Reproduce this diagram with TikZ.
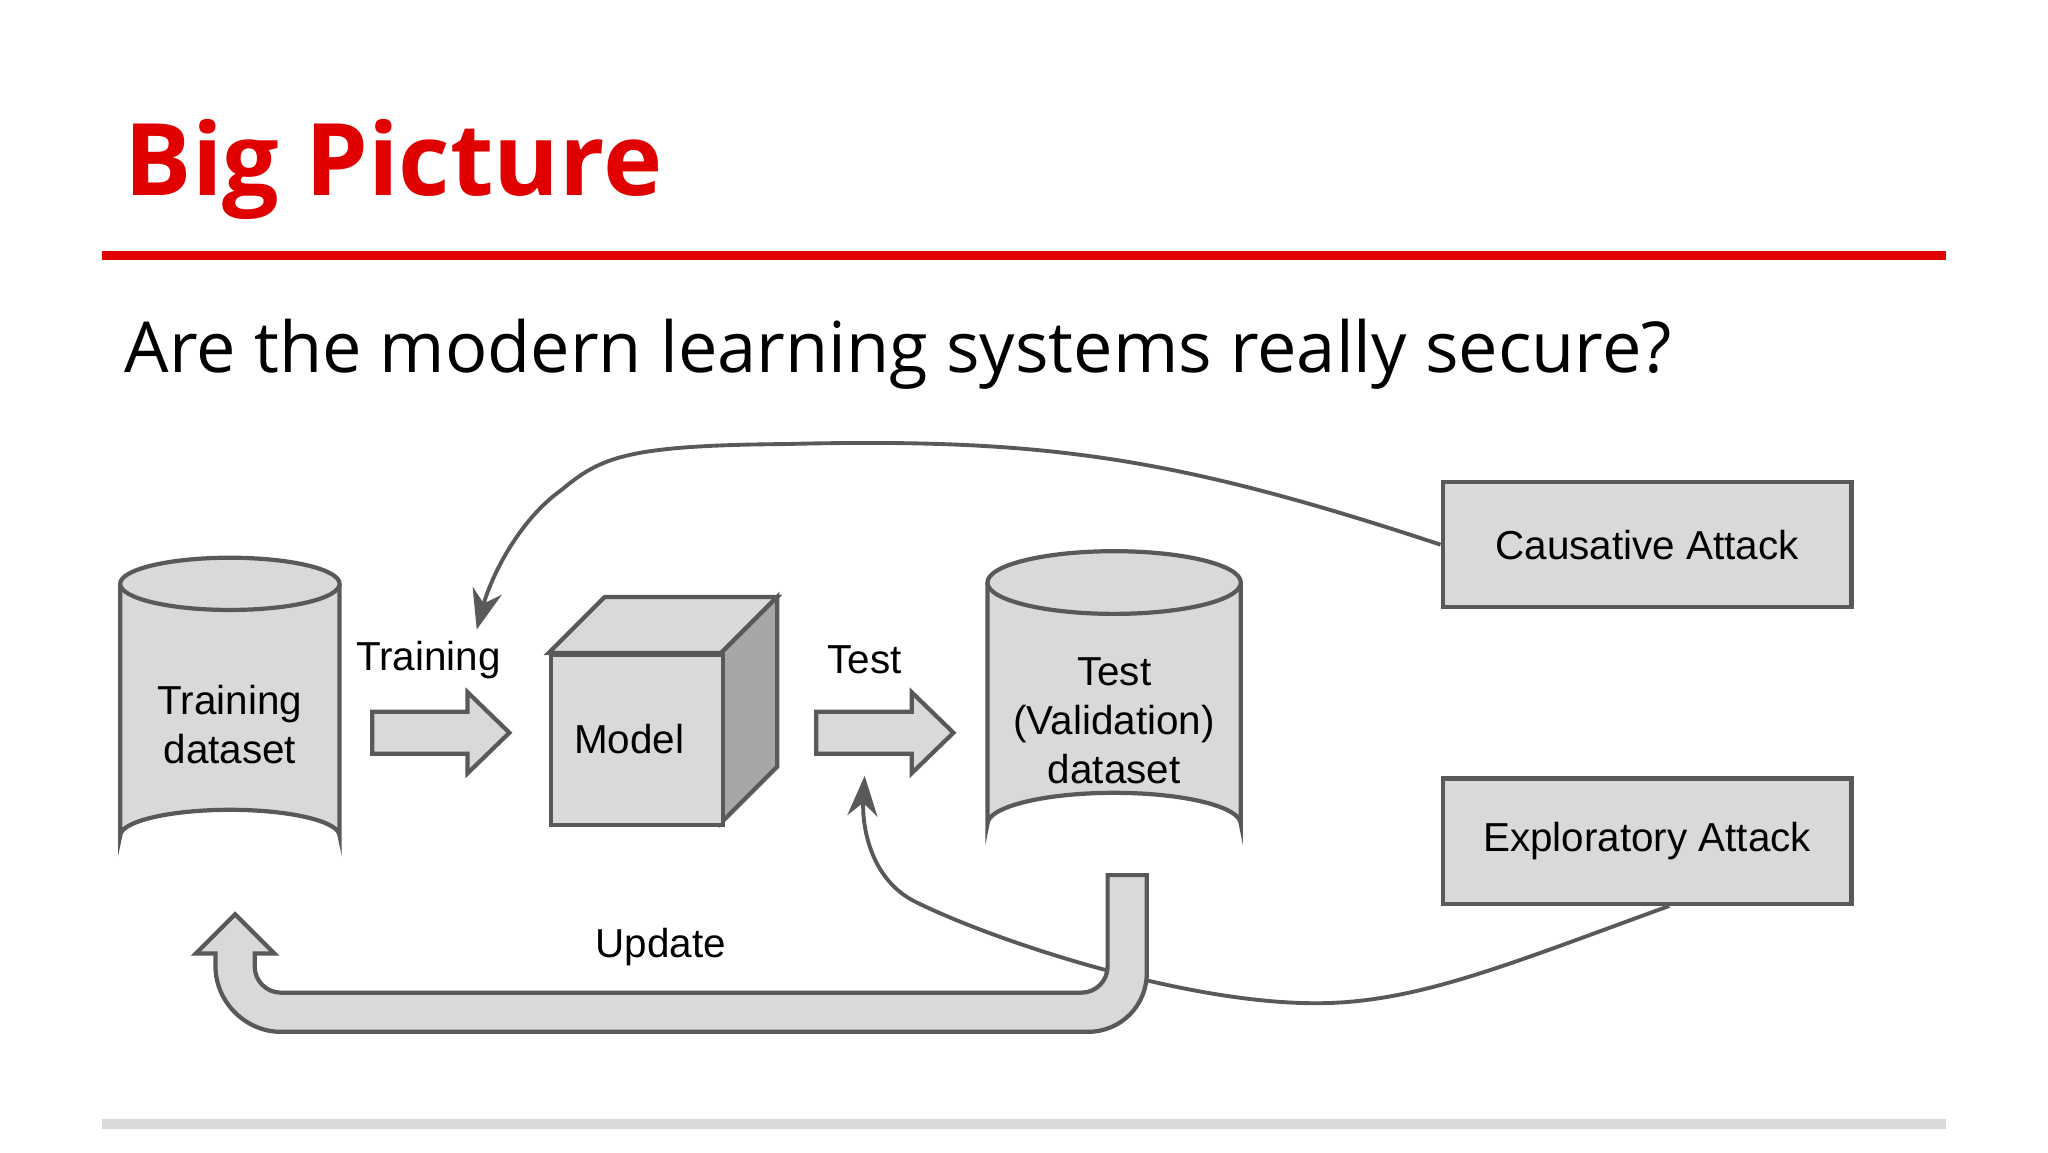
\documentclass[tikz,border=0pt]{standalone}
\usepackage{fontspec}
\setmainfont{Liberation Sans}
\newfontfamily\headfont{Open Sans}
\usetikzlibrary{arrows.meta, shapes.geometric}
\definecolor{boxfill}{HTML}{D9D9D9}
\definecolor{boxline}{HTML}{595959}
\definecolor{sidefill}{HTML}{A6A6A6}
\definecolor{titlered}{HTML}{E00000}
\begin{document}
\begin{tikzpicture}[x=0.1306mm, y=-0.1306mm,
    lbl/.style={font=\fontsize{11.5}{14}\selectfont, align=center, text=black},
    grayshape/.style={draw=boxline, fill=boxfill, line width=1.2pt},
    attack/.style={grayshape, rectangle, minimum width=313*0.1306mm, minimum height=96*0.1306mm, lbl},
    conn/.style={draw=boxline, line width=1.1pt, -{Stealth[length=4mm, width=3mm]}}
]
\useasboundingbox (0,0) rectangle (1568,882);
\fill[white] (0,0) rectangle (1568,882);

% heading
\node[anchor=base west, inner sep=0, text=titlered, font=\headfont\bfseries\fontsize{28.5}{34}\selectfont] (title) at (95,150) {Big Picture};
\fill[titlered] (78,192) rectangle (1490,199);
\node[anchor=base west, inner sep=0, font=\headfont\fontsize{20}{24}\selectfont] (question) at (95,285) {Are the modern learning systems really secure?};
\fill[boxfill] (78,857) rectangle (1490,864);

% datasets
\draw[grayshape] (92,447) -- (92,640) arc[start angle=180, end angle=360, x radius=84, y radius=20] -- (260,447);
\draw[grayshape] (176,447) ellipse[x radius=84, y radius=20];
\node[lbl] (train) at (176,555) {Training\\dataset};
\draw[grayshape] (756,446) -- (756,631) arc[start angle=180, end angle=360, x radius=97, y radius=24] -- (950,446);
\draw[grayshape] (853,446) ellipse[x radius=97, y radius=24];
\node[lbl] (test) at (853,552) {Test\\(Validation)\\dataset};

% model cube
\draw[grayshape] (420,500) -- (463,457) -- (595,457) -- (552,500) -- cycle;
\draw[grayshape, fill=sidefill] (552,500) -- (595,457) -- (595,587) -- (552,630) -- cycle;
\node[grayshape, rectangle, minimum width=132*0.1306mm, minimum height=130*0.1306mm, anchor=north west] (model) at (420,500) {};
\node[lbl, anchor=west] (modeltxt) at (430,566) {Model};

% block arrows
\draw[grayshape] (285,545) -- (358,545) -- (358,530) -- (390,561) -- (358,592) -- (358,577) -- (285,577) -- cycle;
\node[lbl] (trainlbl) at (328,505) {Training};
\draw[grayshape] (625,545) -- (698,545) -- (698,530) -- (730,561) -- (698,592) -- (698,577) -- (625,577) -- cycle;
\node[lbl] (testlbl) at (662,505) {Test};

% attacks
\node[attack] (causative) at (1261,417) {Causative Attack};
\node[attack] (explor) at (1261,644) {Exploratory Attack};
\coordinate (trainin) at (365,482);
\coordinate (testin) at (662,594);
\draw[conn] (causative.west) .. controls (900,350) and (800,335) .. (600,340)
    .. controls (480,341) and (460,350) .. (430,375) .. controls (395,400) and (375,445) .. (trainin);
\draw[conn] ([xshift=17*0.1306mm]explor.south) .. controls (1150,740) and (1080,770) .. (1000,768)
    .. controls (900,766) and (760,720) .. (700,690) .. controls (665,672) and (660,630) .. (testin);

% update arrow
\draw[grayshape] (878,670) -- (878,745) .. controls (878,770) and (858,790) .. (833,790) -- (215,790)
    .. controls (188,790) and (165,767) .. (165,740) -- (165,730) -- (150,730) -- (180,700)
    -- (210,730) -- (195,730) -- (195,740) .. controls (195,751) and (204,760) .. (215,760)
    -- (828,760) .. controls (839,760) and (848,751) .. (848,740) -- (848,670) -- cycle;
\node[lbl] (updlbl) at (506,725) {Update};
\end{tikzpicture}
\end{document}
